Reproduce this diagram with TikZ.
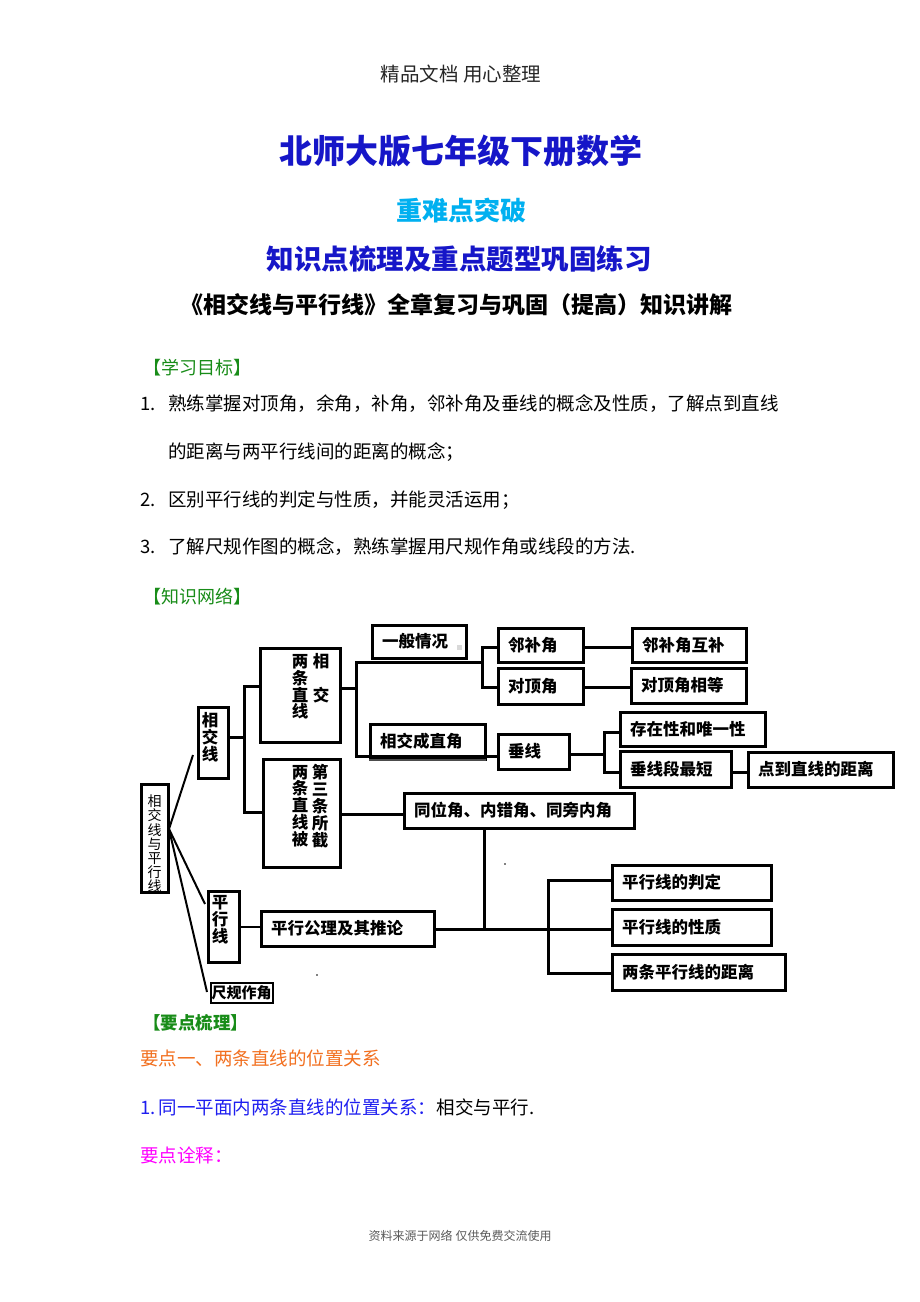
\documentclass[tikz,border=0pt]{standalone}
\usepackage{fontspec}
\setmainfont{Noto Sans CJK SC}
\usetikzlibrary{calc}
\definecolor{ttlblue}{RGB}{22,22,200}
\definecolor{subcyan}{RGB}{0,176,240}
\definecolor{hdgreen}{RGB}{24,140,24}
\definecolor{orng}{RGB}{242,112,32}
\definecolor{blutwo}{RGB}{30,30,240}
\definecolor{magn}{RGB}{255,0,255}
\definecolor{ftgray}{RGB}{90,90,90}
\newcommand\fsz[1]{\fontsize{#1}{#1}\selectfont}
\begin{document}
\begin{tikzpicture}[x=1pt,y=-1pt,
  box/.style={draw, line width=3pt, inner xsep=10pt, inner ysep=0pt, align=left, font=\bfseries\fsz{16.5}},
  vbox/.style={draw, line width=3pt, inner sep=0pt},
  vtxt/.style={inner sep=0pt, align=center, font=\bfseries\fontsize{16.5}{16.8}\selectfont},
  conn/.style={line width=3pt, line join=miter},
  fan/.style={line width=2pt},
  txt/.style={inner sep=0pt, anchor=west}
]
\fill[white] (0,0) rectangle (920,1302);
\useasboundingbox (0,0) rectangle (920,1302);

% ---------- header ----------
\node[inner sep=0pt, font=\fsz{19.5}, text=black!85] (hdr) at (461,74) {精品文档\hspace{5pt}用心整理};
\node[inner sep=0pt, font=\bfseries\fsz{33}, text=ttlblue] (t1) at (461,151) {北师大版七年级下册数学};
\node[inner sep=0pt, font=\bfseries\fsz{26}, text=subcyan] (t2) at (461,211) {重难点突破};
\node[inner sep=0pt, font=\bfseries\fsz{27.5}, text=ttlblue] (t3) at (459,259) {知识点梳理及重点题型巩固练习};
\node[inner sep=0pt, font=\bfseries\fsz{23}] (t4) at (456,305) {《相交线与平行线》全章复习与巩固（提高）知识讲解};

% ---------- objectives ----------
\node[txt, font=\fsz{18}, text=hdgreen] (h1) at (143,368) {【学习目标】};
\node[txt, font=\fsz{18.5}] (n1) at (140,404) {1.};
\node[txt, font=\fsz{18.5}] (l1) at (168,404) {熟练掌握对顶角，余角，补角，邻补角及垂线的概念及性质，了解点到直线};
\node[txt, font=\fsz{18.5}] (l1b) at (168,452) {的距离与两平行线间的距离的概念；};
\node[txt, font=\fsz{18.5}] (n2) at (140,500) {2.};
\node[txt, font=\fsz{18.5}] (l2) at (168,500) {区别平行线的判定与性质，并能灵活运用；};
\node[txt, font=\fsz{18.5}] (n3) at (140,547) {3.};
\node[txt, font=\fsz{18.5}] (l3) at (168,547) {了解尺规作图的概念，熟练掌握用尺规作角或线段的方法.};
\node[txt, font=\fsz{18}, text=hdgreen] (h2) at (143,597) {【知识网络】};

% ---------- diagram boxes ----------
\node[vbox, minimum width=27, minimum height=108] (root) at (154.5,838) {};
\node[inner sep=0pt, align=center, font=\fontsize{14}{14.2}\selectfont] (roott) at (154.5,844) {相\\交\\线\\与\\平\\行\\线};

\node[vbox, minimum width=30, minimum height=71] (xjx) at (213,742.5) {};
\node[vtxt] (xjxt) at (210,737) {相\\交\\线};

\node[vbox, minimum width=31, minimum height=71] (pxx) at (223.5,926.5) {};
\node[vtxt] (pxxt) at (220,920) {平\\行\\线};

\node[draw, line width=2pt, inner sep=0pt, minimum width=62, minimum height=20, font=\bfseries\fsz{15}] (cg) at (241.5,992.5) {尺规作角};

\node[vbox, minimum width=80, minimum height=94] (lxj) at (300,695) {};
\node[vtxt] (lxjl) at (300,687) {两\\条\\直\\线};
\node[vtxt] (lxjr) at (321,678) {相\\ \\交};

\node[vbox, minimum width=77, minimum height=108] (dsj) at (301.5,813) {};
\node[vtxt] (dsjl) at (300,806) {两\\条\\直\\线\\被};
\node[vtxt] (dsjr) at (320,806) {第\\三\\条\\所\\截};

\node[box, text width=74, minimum height=33] (ybqk) at (419,641.5) {一般情况};
\node[box, text width=95, minimum height=35] (xjzj) at (427.5,741.5) {相交成直角};

\node[box, text width=65, minimum height=34] (lbj) at (540.5,645) {邻补角};
\node[box, text width=65, minimum height=36] (ddj) at (540.5,686) {对顶角};
\node[box, text width=94, minimum height=34] (lbjhb) at (689,645) {邻补角互补};
\node[box, text width=95, minimum height=35] (ddjxd) at (688.5,685.5) {对顶角相等};

\node[box, text width=51, minimum height=35] (cx) at (533.5,751.5) {垂线};
\node[box, text width=125, minimum height=34] (czx) at (692.5,729) {存在性和唯一性};
\node[box, text width=91, minimum height=36] (cxd) at (675.5,769) {垂线段最短};
\node[box, text width=125, minimum height=35] (dd) at (820.5,769.5) {点到直线的距离};

\node[box, text width=210, minimum height=35] (twj) at (519,810.5) {同位角、内错角、同旁内角};
\node[box, text width=153, minimum height=35] (pxgl) at (347.5,928.5) {平行公理及其推论};

\node[box, text width=139, minimum height=35] (pd) at (691.5,882.5) {平行线的判定};
\node[box, text width=139, minimum height=36] (xz) at (691.5,927) {平行线的性质};
\node[box, text width=153, minimum height=36] (jl) at (698.5,972) {两条平行线的距离};

% ---------- connectors ----------
\coordinate (hub) at (169,829);
\coordinate (f1) at (193,755);
\coordinate (f2) at (205,904);
\coordinate (f3) at (207,992);
\draw[fan] (hub) -- (f1);
\draw[fan] (hub) -- (f2);
\draw[fan] (hub) -- (f3);

% 相交线 -> two sub boxes
\coordinate (b1) at (244,737);
\draw[conn] (xjx.east |- b1) -- (b1);
\draw[conn] (lxj.west |- 0,686) -- (244,686) -- (244,812) -- (dsj.west |- 0,812);

% 两条直线相交 -> branches
\draw[conn] (lxj.east |- 0,688) -- (356,688);
\draw[conn] (482,662) -- (356,662) -- (356,756) -- (cx.west |- 0,756);
\draw[line width=1.5pt, black!70] (369,760) -- (486,760);

% 一般情况 -> 邻补角 / 对顶角
\draw[conn] (lbj.west |- 0,647) -- (482,647) -- (482,687) -- (ddj.west |- 0,687);
\draw[conn] (lbj.east |- 0,647) -- (lbjhb.west |- 0,647);
\draw[conn] (ddj.east |- 0,687) -- (ddjxd.west |- 0,687);

% 垂线 -> branches
\draw[conn] (cx.east |- 0,754) -- (604,754);
\draw[conn] (czx.west |- 0,732) -- (604,732) -- (604,772) -- (cxd.west |- 0,772);
\draw[conn] (cxd.east |- 0,772) -- (dd.west |- 0,772);

% 第三条所截 -> 同位角
\draw[conn] (dsj.east |- 0,814) -- (twj.west |- 0,814);
\draw[conn] (484,829) -- (484,929);

% 平行线 -> 平行公理
\draw[line width=2pt] (pxx.east |- 0,927) -- (pxgl.west |- 0,927);
\draw[conn] (pxgl.east |- 0,929) -- (548,929);
\draw[conn] (pd.west |- 0,880) -- (548,880) -- (548,973) -- (jl.west |- 0,973);
\draw[conn] (548,929) -- (xz.west |- 0,929);

% stray marks
\fill (505,864) circle (0.8);
\fill (317,975) circle (0.8);
\fill[black!15] (457,645) rectangle (462,650);

% ---------- key points ----------
\node[txt, font=\bfseries\fsz{17.5}, text=hdgreen] (h3) at (143,1023) {【要点梳理】};
\node[txt, font=\fsz{18.5}, text=orng] (k1) at (140,1058) {要点一、两条直线的位置关系};
\node[txt, font=\fsz{18.5}, text=blutwo] (k2) at (140,1107) {1.\hspace{3pt}同一平面内两条直线的位置关系：};
\node[txt, font=\fsz{18.5}] (k2b) at (k2.east) {相交与平行.};
\node[txt, font=\fsz{18.5}, text=magn] (k3) at (140,1155) {要点诠释：};

% ---------- footer ----------
\node[inner sep=0pt, font=\fsz{12}, text=ftgray] (ftr) at (460,1236) {资料来源于网络\hspace{3pt}仅供免费交流使用};
\end{tikzpicture}
\end{document}
